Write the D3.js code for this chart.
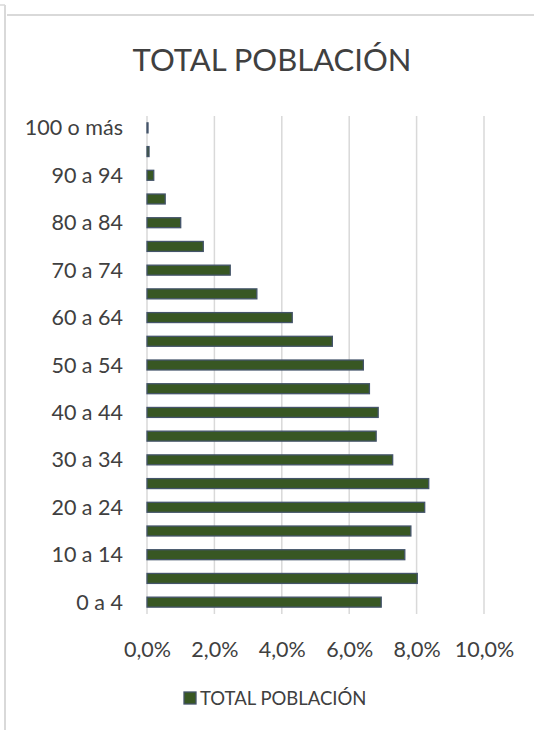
<!DOCTYPE html>
<html>
<head>
<meta charset="utf-8">
<script src="https://cdn.jsdelivr.net/npm/d3@7"></script>
<style>
  html, body { margin: 0; padding: 0; background: #ffffff; }
  svg { display: block; }
  text { font-family: Lato, "Open Sans", sans-serif; }
</style>
</head>
<body>
<script>
// Age groups, youngest first (drawn bottom to top)
const ageGroups = [
  "0 a 4", "5 a 9", "10 a 14", "15 a 19", "20 a 24", "25 a 29", "30 a 34",
  "35 a 39", "40 a 44", "45 a 49", "50 a 54", "55 a 59", "60 a 64", "65 a 69",
  "70 a 74", "75 a 79", "80 a 84", "85 a 89", "90 a 94", "95 a 99", "100 o más"
];
// Share of the total population in each age group (%)
const populationShare = [
  6.95, 8.02, 7.65, 7.83, 8.24, 8.36, 7.29,
  6.80, 6.86, 6.60, 6.42, 5.50, 4.31, 3.26,
  2.47, 1.67, 1.00, 0.54, 0.20, 0.06, 0.03
];
const xTicks = [0, 2, 4, 6, 8, 10];
const chartTitle = "TOTAL POBLACIÓN";
const seriesName = "TOTAL POBLACIÓN";

const W = 534, H = 730;
const svg = d3.select("body").append("svg").attr("width", W).attr("height", H);

// Chart frame
const frameColor = "#d9d9d9";
svg.append("line").attr("x1", 5).attr("x2", 5).attr("y1", 5).attr("y2", H)
  .attr("stroke", frameColor).attr("stroke-width", 2);
svg.append("line").attr("x1", 0).attr("x2", 5).attr("y1", 5).attr("y2", 5)
  .attr("stroke", frameColor).attr("stroke-width", 1.5);
svg.append("line").attr("x1", 7).attr("x2", W).attr("y1", 15).attr("y2", 15)
  .attr("stroke", frameColor).attr("stroke-width", 2);

const plot = { left: 147, right: 484, top: 116, bottom: 614 };

const x = d3.scaleLinear().domain([0, 10]).range([plot.left, plot.right]);
const y = d3.scaleBand().domain(ageGroups.slice().reverse())
  .range([plot.top, plot.bottom]).paddingInner(0.58).paddingOuter(0.29);

// Vertical gridlines
svg.append("g").selectAll("line").data(xTicks).join("line")
  .attr("x1", d => x(d)).attr("x2", d => x(d))
  .attr("y1", plot.top).attr("y2", plot.bottom)
  .attr("stroke", "#d9d9d9").attr("stroke-width", 1.5);

// Bars
svg.append("g").selectAll("rect").data(ageGroups).join("rect")
  .attr("x", x(0))
  .attr("y", d => y(d))
  .attr("width", (d, i) => Math.max(0.5, x(populationShare[i]) - x(0)))
  .attr("height", y.bandwidth())
  .attr("fill", "#385723")
  .attr("stroke", "#44546a")
  .attr("stroke-width", 1.3);

const labelColor = "#404040";

// Category axis: every other label
const yAxis = d3.axisLeft(y)
  .tickValues(ageGroups.filter((d, i) => i % 2 === 0))
  .tickSize(0).tickPadding(0);
const gy = svg.append("g").attr("transform", `translate(123,0)`).call(yAxis);
gy.select(".domain").remove();
gy.selectAll("text").attr("font-size", 21.5).attr("fill", labelColor)
  .attr("font-family", "Lato, sans-serif").attr("dy", "0.35em");

// Value axis
const fmt = d => d.toFixed(1).replace(".", ",") + "%";
const xAxis = d3.axisBottom(x).tickValues(xTicks).tickFormat(fmt)
  .tickSize(0).tickPadding(0);
const gx = svg.append("g").attr("transform", `translate(0,642)`).call(xAxis);
gx.select(".domain").remove();
gx.selectAll("text").attr("font-size", 21.5).attr("fill", labelColor)
  .attr("font-family", "Lato, sans-serif").attr("dy", "0.71em");

// Title
svg.append("text").attr("x", 272).attr("y", 71)
  .attr("text-anchor", "middle").attr("font-size", 31).attr("fill", labelColor)
  .text(chartTitle);

// Legend
const lg = svg.append("g");
lg.append("rect").attr("x", 184).attr("y", 692).attr("width", 12).attr("height", 12)
  .attr("fill", "#385723").attr("stroke", "#44546a").attr("stroke-width", 1.3);
lg.append("text").attr("x", 200).attr("y", 705)
  .attr("font-size", 18.5).attr("fill", labelColor).text(seriesName);
</script>
</body>
</html>
